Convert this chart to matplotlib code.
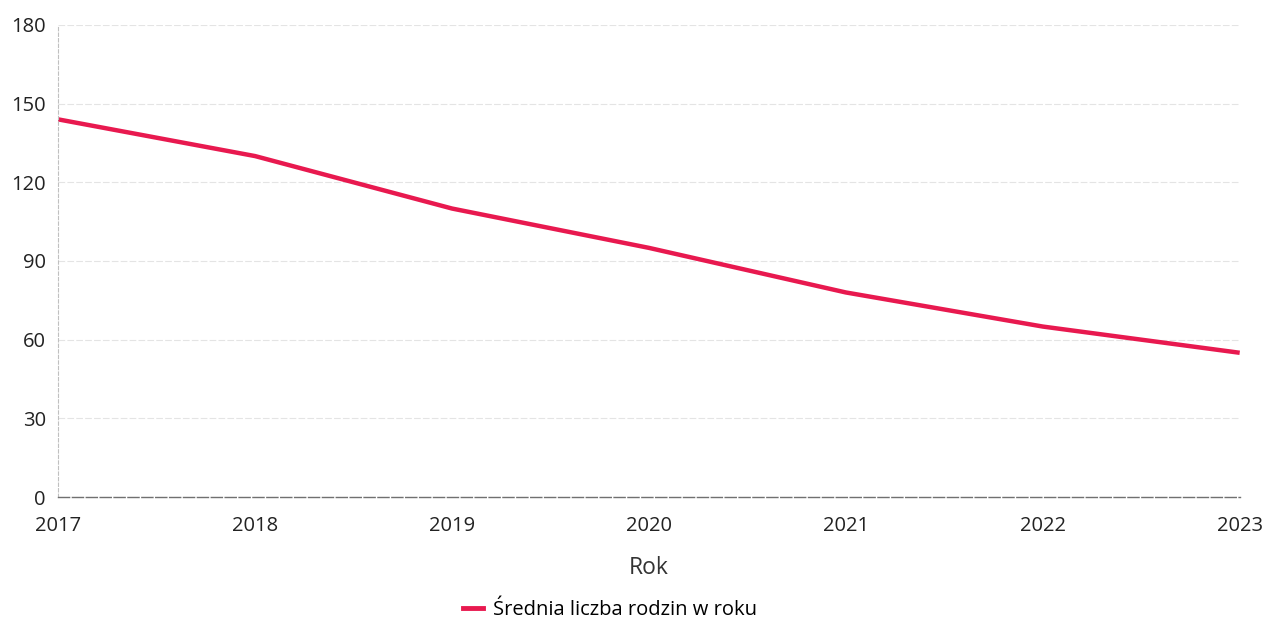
import matplotlib.pyplot as plt
from matplotlib.lines import Line2D

years = [2017, 2018, 2019, 2020, 2021, 2022, 2023]
families = [144, 130, 110, 95, 78, 65, 55]
yticks = [0, 30, 60, 90, 120, 150, 180]

plt.rcParams['font.family'] = ['Open Sans', 'DejaVu Sans']

fig = plt.figure(figsize=(12.65, 6.24), dpi=100)
ax = fig.add_axes([0.046, 0.2035, 0.934, 0.7565])

ax.plot(years, families, color='#e8194f', linewidth=3.2, solid_capstyle='butt')

ax.set_xlim(2017, 2023)
ax.set_ylim(0, 180)
ax.set_yticks(yticks)
ax.set_xticks(years)
ax.tick_params(axis='both', length=0, labelsize=14.5, colors='#222222')
ax.tick_params(axis='y', pad=9)
ax.tick_params(axis='x', pad=14)
ax.grid(axis='y', color='#e4e4e4', linewidth=0.8, linestyle=(0, (6, 2)))
ax.set_axisbelow(True)

for s in ['top', 'right']:
    ax.spines[s].set_visible(False)
ax.spines['left'].set_color('#c0c0c0')
ax.spines['left'].set_linestyle((0, (3, 2)))
ax.spines['left'].set_linewidth(0.8)
ax.spines['bottom'].set_color('#707070')
ax.spines['bottom'].set_linestyle((0, (8, 2)))
ax.spines['bottom'].set_linewidth(1.0)

ax.set_xlabel('Rok', fontsize=16.5, color='#333333', labelpad=14)

handle = Line2D([], [], color='#e8194f', linewidth=3.5)
fig.legend([handle], ['Średnia liczba rodzin w roku'], loc='center',
           bbox_to_anchor=(0.482, 0.022), frameon=False, fontsize=14.5,
           handlelength=1.0, handletextpad=0.5)

fig.savefig('out.png', dpi=100, facecolor='white')
